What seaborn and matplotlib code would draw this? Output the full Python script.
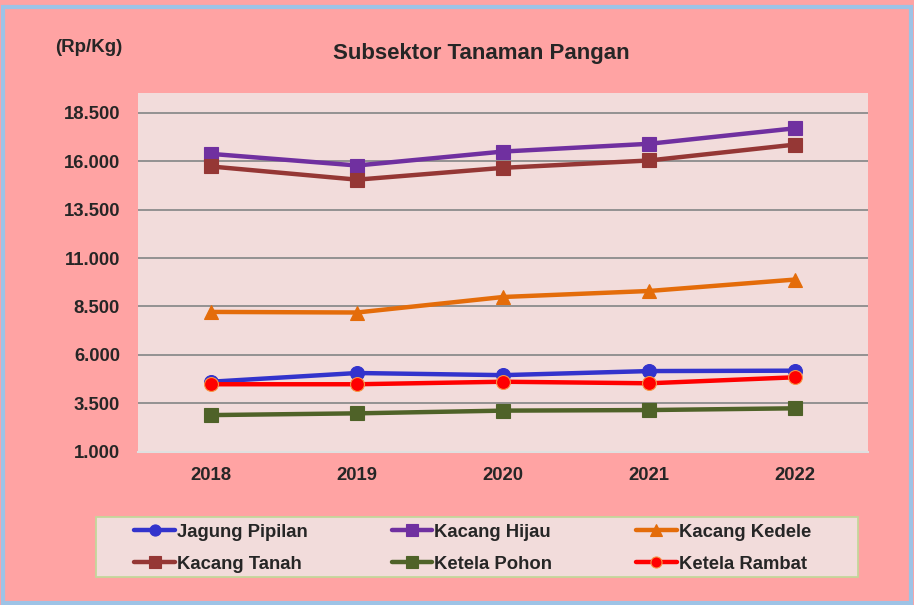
import seaborn as sns
import matplotlib.pyplot as plt
import matplotlib.patches as mpatches
from matplotlib.ticker import FuncFormatter
import pandas as pd

years = [2018, 2019, 2020, 2021, 2022]
jagung_pipilan = [4620, 5070, 4960, 5170, 5190]
kacang_hijau = [16370, 15770, 16490, 16890, 17690]
kacang_kedele = [8220, 8190, 8990, 9300, 9890]
kacang_tanah = [15720, 15040, 15650, 16030, 16850]
ketela_pohon = [2900, 2990, 3130, 3160, 3250]
ketela_rambat = [4490, 4490, 4620, 4540, 4850]

series = [
    ("Jagung Pipilan", jagung_pipilan, "#3333CC", "o", "#3333CC"),
    ("Kacang Hijau", kacang_hijau, "#7030A0", "s", "#7030A0"),
    ("Kacang Kedele", kacang_kedele, "#E46C0A", "^", "#E46C0A"),
    ("Kacang Tanah", kacang_tanah, "#953735", "s", "#953735"),
    ("Ketela Pohon", ketela_pohon, "#4F6228", "s", "#4F6228"),
    ("Ketela Rambat", ketela_rambat, "#FF0000", "o", "#F79646"),
]

sns.set_theme(style="white")
plt.rcParams['font.family'] = ['Liberation Sans', 'DejaVu Sans']
plt.rcParams['font.weight'] = 'bold'

fig = plt.figure(figsize=(9.14, 6.05), dpi=100)
fig.patch.set_facecolor('#FFA3A3')
ax = fig.add_axes([0.151, 0.253, 0.799, 0.593])
ax.set_facecolor('#F2DCDB')

handles = {}
for name, vals, color, marker, edge in series:
    df = pd.DataFrame({"Tahun": years, "Harga": vals})
    sns.lineplot(data=df, x="Tahun", y="Harga", ax=ax, color=color, linewidth=3.2,
                 marker=marker, markersize=10, markeredgecolor=edge, markeredgewidth=0.8,
                 label=name)
    handles[name] = ax.get_lines()[-1]

ax.set_xlim(2017.5, 2022.5)
ax.set_ylim(1000, 19500)
ax.set_yticks(range(1000, 18501, 2500))
ax.set_xticks(years)
ax.yaxis.set_major_formatter(FuncFormatter(lambda v, p: f"{int(v):,}".replace(",", ".")))
ax.tick_params(axis='y', labelsize=13.3, length=0, pad=13)
ax.tick_params(axis='x', labelsize=13.3, length=0, pad=11)
for lbl in ax.get_xticklabels() + ax.get_yticklabels():
    lbl.set_fontweight('bold')
ax.yaxis.grid(True, color='#8C8C8C', linewidth=1.3)
ax.set_axisbelow(True)
for s in ax.spines.values():
    s.set_visible(False)
ax.spines['bottom'].set_visible(True)
ax.spines['bottom'].set_color('#E0E0E0')
ax.spines['bottom'].set_linewidth(1.5)
ax.set_xlabel('')
ax.set_ylabel('')
ax.get_legend().remove()

# legend box drawn separately
fig.patches.append(mpatches.Rectangle((0.105, 0.0463), 0.834, 0.099, transform=fig.transFigure,
                                      facecolor='#F2DCDB', edgecolor='#C4D79B', linewidth=1.3,
                                      zorder=0))

order = ["Jagung Pipilan", "Kacang Tanah", "Kacang Hijau", "Ketela Pohon",
         "Kacang Kedele", "Ketela Rambat"]
leg = fig.legend([handles[n] for n in order], order, loc='center',
                 bbox_to_anchor=(0.517, 0.094, 0, 0), ncol=3, fontsize=13.3,
                 frameon=False, handlelength=2.2, handletextpad=0.1,
                 columnspacing=4.55, labelspacing=0.8, borderpad=0.0, markerscale=0.8)
for t in leg.get_texts():
    t.set_fontweight('bold')

fig.text(0.527, 0.912, 'Subsektor Tanaman Pangan', ha='center', va='center',
         fontsize=16, fontweight='bold')
fig.text(0.097, 0.922, '(Rp/Kg)', ha='center', va='center', fontsize=13.5, fontweight='bold')

fig.patches.append(mpatches.Rectangle((0.003, 0.003), 0.994, 0.985, transform=fig.transFigure,
                                      fill=False, edgecolor='#9DC3E6', linewidth=3))

plt.savefig('out.png', dpi=100, facecolor=fig.get_facecolor())
